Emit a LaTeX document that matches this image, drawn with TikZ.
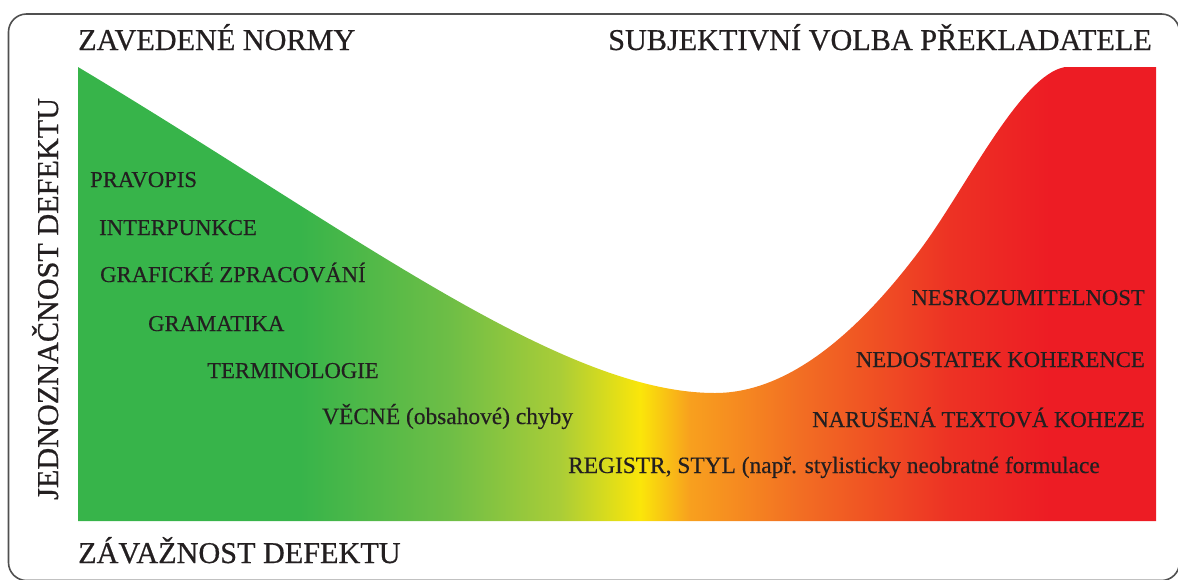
\documentclass[tikz,border=0pt]{standalone}
\usepackage{fontspec}
\setmainfont{Liberation Serif}
\definecolor{txt}{RGB}{35,31,32}
\definecolor{frame}{RGB}{80,80,80}
\pgfdeclarehorizontalshading{defshade}{100bp}{%
rgb(0bp)=(0.216,0.706,0.290);
rgb(25bp)=(0.216,0.706,0.290);
rgb(35.3bp)=(0.216,0.706,0.290);
rgb(42.25bp)=(0.431,0.745,0.275);
rgb(47.36bp)=(0.667,0.804,0.216);
rgb(51.07bp)=(0.980,0.902,0.039);
rgb(53.39bp)=(0.973,0.627,0.118);
rgb(58.49bp)=(0.949,0.431,0.137);
rgb(65.45bp)=(0.929,0.196,0.141);
rgb(70.08bp)=(0.929,0.110,0.141);
rgb(75bp)=(0.929,0.110,0.141);
rgb(100bp)=(0.929,0.110,0.141)}
\tikzset{
  head/.style={font=\fontsize{30.2}{34}\selectfont\addfontfeature{FakeBold=0.6}, text=txt, inner sep=0pt},
  lab/.style={font=\fontsize{22.7}{26}\selectfont\addfontfeature{FakeBold=0.4}, text=txt, inner sep=0pt},
  labw/.style={font=\fontsize{23.4}{26}\selectfont\addfontfeature{FakeBold=0.4}, text=txt, inner sep=0pt},
}
\begin{document}
\begin{tikzpicture}[x=1pt,y=-1pt]
\useasboundingbox (0,0) rectangle (1178,579);
% frame
\draw[frame, line width=1.6pt, rounded corners=18pt] (8.5,14) rectangle (1179.5,580.5);
% gradient shape
\path[shading=defshade] (78,67)
  .. controls (350,230) and (560,393) .. (715,393)
  .. controls (790,393) and (860,330) .. (920,250)
  .. controls (965,190) and (1020,75) .. (1065,67)
  -- (1156,67) -- (1156,521) -- (78,521) -- cycle;
% headings
\node[head, anchor=base west] (zn) at (78,50) {ZAVEDENÉ NORMY};
\node[head, anchor=base east] (sv) at (1152,50) {SUBJEKTIVNÍ VOLBA PŘEKLADATELE};
\node[head, anchor=base west] (zd) at (78,563) {ZÁVAŽNOST DEFEKTU};
\node[head, anchor=base west, rotate=90] (jd) at (58,500) {JEDNOZNAČNOST DEFEKTU};
% left labels
\node[lab, anchor=base west] (l1) at (90,187) {PRAVOPIS};
\node[lab, anchor=base west] (l2) at (99,235) {INTERPUNKCE};
\node[lab, anchor=base west] (l3) at (100,282) {GRAFICKÉ ZPRACOVÁNÍ};
\node[lab, anchor=base west] (l4) at (148,331) {GRAMATIKA};
\node[lab, anchor=base west] (l5) at (207,378) {TERMINOLOGIE};
\node[labw, anchor=base west] (l6) at (322,424) {VĚCNÉ (obsahové) chyby};
\node[labw, anchor=base west] (l7) at (568,473) {REGISTR, STYL (např. stylisticky neobratné formulace};
% right labels
\node[lab, anchor=base east] (r1) at (1145,305) {NESROZUMITELNOST};
\node[lab, anchor=base east] (r2) at (1145,367) {NEDOSTATEK KOHERENCE};
\node[lab, anchor=base east] (r3) at (1145,427) {NARUŠENÁ TEXTOVÁ KOHEZE};
\end{tikzpicture}
\end{document}
